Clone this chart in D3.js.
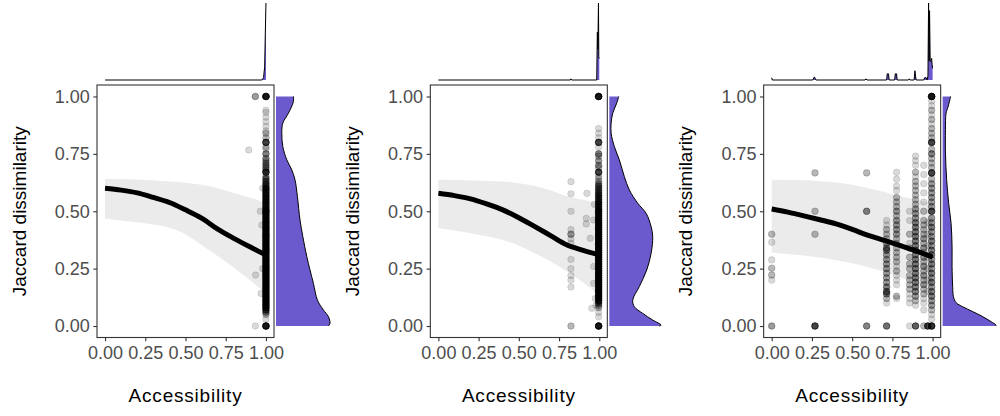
<!DOCTYPE html>
<html><head><meta charset="utf-8">
<script src="https://cdn.jsdelivr.net/npm/d3@7"></script>
<style>body{margin:0;background:#fff}svg{display:block}text{font-family:"Liberation Sans",Arial,sans-serif}</style>
</head><body><svg id="c" width="1000" height="416"></svg>
<script>
// ---------- DATA ----------
const xTicks = [0, 0.25, 0.5, 0.75, 1];
const yTicks = [0, 0.25, 0.5, 0.75, 1];
const xTitle = "Accessibility";
const yTitle = "Jaccard dissimilarity";

// smooth fit (x grid shared by the three panels)
const fitX = [0, 0.1, 0.2, 0.3, 0.4, 0.5, 0.6, 0.7, 0.8, 0.9, 1.0];
const p1Fit = [0.600, 0.592, 0.580, 0.560, 0.538, 0.506, 0.470, 0.422, 0.382, 0.345, 0.310];
const p1Upper = [0.641, 0.640, 0.638, 0.634, 0.630, 0.624, 0.615, 0.600, 0.580, 0.560, 0.535];
const p1Lower = [0.467, 0.460, 0.452, 0.442, 0.428, 0.400, 0.353, 0.305, 0.255, 0.200, 0.140];
const p2Fit = [0.578, 0.568, 0.554, 0.532, 0.506, 0.472, 0.433, 0.393, 0.353, 0.330, 0.310];
const p2Upper = [0.637, 0.636, 0.634, 0.632, 0.630, 0.622, 0.610, 0.590, 0.565, 0.550, 0.535];
const p2Lower = [0.426, 0.416, 0.404, 0.391, 0.375, 0.350, 0.317, 0.280, 0.237, 0.190, 0.135];
const p3Fit = [0.510, 0.496, 0.480, 0.463, 0.445, 0.421, 0.395, 0.373, 0.350, 0.326, 0.300];
const p3Upper = [0.637, 0.636, 0.635, 0.631, 0.625, 0.615, 0.600, 0.584, 0.565, 0.550, 0.535];
const p3Lower = [0.320, 0.314, 0.307, 0.298, 0.287, 0.273, 0.256, 0.236, 0.212, 0.183, 0.150];

// right marginal densities of dissimilarity: [y, density]
const p1RightDens = [[1.0,0.87],[0.978,0.87],[0.927,0.62],[0.884,0.34],[0.84,0.29],[0.782,0.34],[0.724,0.54],[0.68,0.79],[0.637,0.95],[0.564,1.07],[0.462,1.2],[0.39,1.34],[0.302,1.54],[0.244,1.7],[0.186,1.87],[0.113,2.07],[0.07,2.37],[0.041,2.62],[0.012,2.7],[0,2.62]];
const p2RightDens = [[1.0,0.47],[0.971,0.37],[0.927,0.17],[0.884,0.09],[0.84,0.09],[0.782,0.25],[0.724,0.5],[0.651,0.75],[0.593,1.0],[0.535,1.42],[0.491,1.84],[0.433,2.09],[0.39,2.17],[0.317,2.09],[0.244,1.87],[0.172,1.5],[0.113,1.17],[0.084,1.25],[0.055,1.67],[0.026,2.17],[0.004,2.59],[0,2.5]];
const p3RightDens = [[1.0,0.39],[0.978,0.34],[0.949,0.25],[0.927,0.17],[0.855,0.14],[0.753,0.14],[0.637,0.2],[0.535,0.3],[0.448,0.42],[0.346,0.47],[0.259,0.47],[0.172,0.5],[0.128,0.54],[0.102,0.67],[0.084,1.0],[0.063,1.5],[0.041,2.0],[0.019,2.42],[0.004,2.67],[0,2.65]];

// top marginal densities of accessibility: [x, density]
const p1TopDens = [[0,0],[0.975,0],[0.985,0.03],[0.992,0.17],[0.996,0.6],[1.0,1.0]];
const p2TopDens = [[0,0],[0.82,0],[0.824,0.015],[0.828,0],[0.984,0],[0.988,0.62],[0.991,0.4],[0.995,1.0],[0.997,0.3],[1.0,0.28]];
const p3TopDens = [[0,0.03],[0.004,0],[0.255,0],[0.265,0.04],[0.275,0],[0.58,0],[0.586,0.015],[0.592,0],[0.714,0],[0.718,0.08],[0.726,0.08],[0.73,0],[0.764,0],[0.768,0.08],[0.776,0.08],[0.78,0],[0.85,0],[0.855,0.015],[0.86,0],[0.885,0],[0.89,0.12],[0.894,0.05],[0.898,0],[0.945,0],[0.95,0.03],[0.96,0.03],[0.965,0],[0.971,0.05],[0.975,1.0],[0.978,0.25],[0.981,0.9],[0.985,0.24],[0.99,0.25],[0.994,0.28],[0.997,0.2],[1.0,0.15]];

// points: columns of [y, count]
const p1Col100 = [[0,14],[0.03,1],[0.05,2],[0.06,4],[0.07,6],[0.08,8],[0.09,8],[0.10,8],[0.11,8],[0.12,8],[0.13,8],[0.14,8],[0.15,8],[0.16,8],[0.17,8],[0.18,8],[0.19,8],[0.20,8],[0.21,8],[0.22,8],[0.23,8],[0.24,8],[0.25,9],[0.26,8],[0.27,8],[0.28,8],[0.29,8],[0.30,8],[0.31,8],[0.32,8],[0.33,9],[0.34,8],[0.35,8],[0.36,8],[0.37,8],[0.38,8],[0.39,8],[0.40,9],[0.41,7],[0.42,8],[0.43,8],[0.44,7],[0.45,8],[0.46,7],[0.47,7],[0.48,7],[0.49,7],[0.50,10],[0.51,7],[0.52,7],[0.53,6],[0.54,7],[0.55,6],[0.56,6],[0.57,6],[0.58,6],[0.59,6],[0.60,7],[0.61,5],[0.62,5],[0.63,4],[0.64,4],[0.65,3],[0.67,8],[0.68,3],[0.69,3],[0.70,3],[0.71,3],[0.72,2],[0.73,3],[0.75,4],[0.77,1],[0.78,2],[0.80,8],[0.82,2],[0.84,2],[0.85,1],[0.87,1],[0.89,1],[0.91,1],[0.93,1],[0.94,1],[1.00,14]];
const p1Singles = [[0.893,0.767,1],[0.934,1.0,3],[0.934,0,1],[0.936,0.222,1],[0.965,0.50,1],[0.97,0.142,1],[0.975,0.44,1],[0.98,0.25,1],[0.98,0.60,1]];

const p2Col100 = [[0,14],[0.04,1],[0.06,1],[0.08,2],[0.09,3],[0.10,5],[0.11,7],[0.12,8],[0.13,8],[0.14,8],[0.15,8],[0.16,8],[0.17,8],[0.18,8],[0.19,8],[0.20,8],[0.21,8],[0.22,8],[0.23,8],[0.24,8],[0.25,9],[0.26,8],[0.27,8],[0.28,8],[0.29,8],[0.30,8],[0.31,8],[0.32,8],[0.33,9],[0.34,8],[0.35,8],[0.36,8],[0.37,8],[0.38,8],[0.39,8],[0.40,9],[0.41,8],[0.42,8],[0.43,8],[0.44,8],[0.45,8],[0.46,8],[0.47,7],[0.48,7],[0.49,7],[0.50,10],[0.51,6],[0.52,6],[0.53,6],[0.54,6],[0.55,5],[0.56,5],[0.57,5],[0.58,5],[0.59,4],[0.60,4],[0.61,4],[0.62,3],[0.63,2],[0.64,1],[0.65,2],[0.67,8],[0.69,2],[0.70,3],[0.72,3],[0.74,2],[0.75,4],[0.78,1],[0.80,8],[0.82,1],[0.84,1],[0.86,1],[1.0,14]];
const p2Col082 = [[0.629,1],[0.576,1],[0.50,1],[0.42,1],[0.40,3],[0.38,1],[0.36,1],[0.29,1],[0.25,1],[0.22,1],[0.20,1],[0.17,1],[0,2]];
const p2Singles = [[0.923,0.578,1],[0.919,0.469,1],[0.919,0.445,1],[0.944,0.382,1],[0.954,0.077,1],[0.965,0.462,1],[0.965,0.259,1],[0.965,0.186,1],[0.97,0.53,1],[0.975,0.12,1],[0.98,0.09,1]];

const p3Col000 = [[0.40,2],[0.365,1],[0.288,1],[0.252,2],[0.222,2],[0.20,1],[0,3]];
const p3Col027 = [[0.667,2],[0.5,2],[0.4,2],[0,8]];
const p3Col059 = [[0.667,2],[0.5,4],[0,4]];
const p3Col071 = [[0.46,1],[0.44,1],[0.42,2],[0.40,2],[0.38,2],[0.36,3],[0.34,4],[0.33,4],[0.31,3],[0.29,3],[0.27,3],[0.25,3],[0.23,3],[0.21,3],[0.19,3],[0.17,4],[0.15,5],[0.14,4],[0.12,2],[0.10,1],[0,5]];
const p3Col078 = [[0.67,1],[0.64,1],[0.61,1],[0.59,1],[0.56,2],[0.54,2],[0.52,2],[0.50,3],[0.48,2],[0.46,3],[0.44,3],[0.42,3],[0.40,3],[0.38,2],[0.36,2],[0.34,2],[0.32,2],[0.30,2],[0.28,2],[0.26,1],[0.24,2],[0.22,1],[0.20,1],[0.18,1],[0.13,2],[0.12,1]];
const p3Col086 = [[0.50,1],[0.46,1],[0.40,2],[0.36,1],[0.34,2],[0.30,2],[0.27,2],[0.25,2],[0.22,2],[0.20,2],[0.18,2],[0.16,2],[0.14,1],[0.12,1],[0.10,1],[0,1]];
const p3Col089 = [[0.74,1],[0.72,1],[0.70,1],[0.67,2],[0.65,1],[0.63,2],[0.61,2],[0.59,2],[0.57,2],[0.55,2],[0.53,2],[0.51,3],[0.49,3],[0.47,3],[0.45,4],[0.43,4],[0.41,4],[0.39,4],[0.37,4],[0.35,4],[0.33,4],[0.31,4],[0.29,4],[0.27,4],[0.25,4],[0.23,4],[0.21,4],[0.19,4],[0.17,4],[0.15,4],[0.13,3],[0.11,2],[0.09,1],[0,6]];
const p3Col095 = [[0.70,1],[0.66,1],[0.62,1],[0.58,1],[0.54,1],[0.50,2],[0.46,2],[0.44,2],[0.42,2],[0.40,2],[0.38,3],[0.36,2],[0.34,3],[0.32,2],[0.30,3],[0.28,2],[0.26,3],[0.24,2],[0.22,3],[0.20,2],[0.18,3],[0.16,2],[0.14,2],[0.12,1],[0.10,1],[0.07,1],[0,2]];
const p3Col097 = [[0.45,1],[0.40,1],[0.35,1],[0.30,1],[0.25,1],[0.20,1],[0.15,1],[0,8]];
const p3Col099 = [[0,10],[0.03,1],[0.05,1],[0.07,2],[0.09,3],[0.11,3],[0.13,4],[0.15,4],[0.17,3],[0.19,4],[0.21,3],[0.23,4],[0.25,3],[0.27,4],[0.29,3],[0.31,4],[0.33,4],[0.35,3],[0.37,4],[0.39,3],[0.41,3],[0.43,4],[0.45,3],[0.47,3],[0.50,7],[0.52,3],[0.54,3],[0.56,3],[0.58,3],[0.60,3],[0.62,3],[0.64,2],[0.667,8],[0.69,2],[0.71,2],[0.73,2],[0.75,4],[0.77,2],[0.80,8],[0.82,2],[0.84,2],[0.86,2],[0.88,1],[0.90,2],[0.92,1],[0.94,2],[0.96,1],[0.98,1],[1.0,14]];

// ---------- BUILD ----------
function col(xv, arr){ return arr.map(d => [xv, d[0], d[1]]); }
const panels = [
  { fit:p1Fit, up:p1Upper, lo:p1Lower, right:p1RightDens, top:p1TopDens,
    pts:[...col(1.0,p1Col100), ...p1Singles] },
  { fit:p2Fit, up:p2Upper, lo:p2Lower, right:p2RightDens, top:p2TopDens,
    pts:[...col(0.824,p2Col082), ...p2Singles, ...col(0.996,p2Col100)] },
  { fit:p3Fit, up:p3Upper, lo:p3Lower, right:p3RightDens, top:p3TopDens,
    pts:[...col(0,p3Col000), ...col(0.269,p3Col027), ...col(0.59,p3Col059), ...col(0.714,p3Col071),
         ...col(0.776,p3Col078), ...col(0.857,p3Col086), ...col(0.894,p3Col089), ...col(0.945,p3Col095),
         ...col(0.97,p3Col097), ...col(0.994,p3Col099)] }
];

const svg = d3.select('#c');
const FS_TICK = 18, FS_TITLE = 19;

panels.forEach((p, i) => {
  const ox = i * 333.33;
  const g = svg.append('g');
  const x = d3.scaleLinear().domain([-0.05, 1.05]).range([ox + 97, ox + 274]);
  const y = d3.scaleLinear().domain([-0.05, 1.05]).range([337.5, 85]);
  const xr = d3.scaleLinear().domain([0, 2.75]).range([ox + 276, ox + 331]);
  const yt = d3.scaleLinear().domain([0, 1]).range([80, 3]);

  // ribbon
  const rib = fitX.map((xv, k) => ({x: xv, lo: p.lo[k], up: p.up[k], f: p.fit[k]}));
  g.append('path').datum(rib)
    .attr('d', d3.area().x(d => x(d.x)).y0(d => y(d.lo)).y1(d => y(d.up)).curve(d3.curveMonotoneX))
    .attr('fill', '#ebebeb');

  // points
  const expanded = p.pts.flatMap(d => d3.range(d[2]).map(() => [d[0], d[1]]));
  g.append('g').selectAll('circle').data(expanded).join('circle')
    .attr('cx', d => x(d[0])).attr('cy', d => y(d[1])).attr('r', 3.3)
    .attr('fill', '#000').attr('fill-opacity', 0.15)
    .attr('stroke', '#000').attr('stroke-opacity', 0.15).attr('stroke-width', 0.7);

  // fit line
  g.append('path').datum(rib)
    .attr('d', d3.line().x(d => x(d.x)).y(d => y(d.f)).curve(d3.curveMonotoneX))
    .attr('fill', 'none').attr('stroke', '#000').attr('stroke-width', 5);

  // panel border
  g.append('rect').attr('x', x(-0.05)).attr('y', y(1.05))
    .attr('width', x(1.05) - x(-0.05)).attr('height', y(-0.05) - y(1.05))
    .attr('fill', 'none').attr('stroke', '#333').attr('stroke-width', 1.1);

  // axes
  const ax = g.append('g').attr('transform', `translate(0,${y(-0.05)})`)
    .call(d3.axisBottom(x).tickValues(xTicks).tickFormat(d3.format('.2f')).tickSize(3.7).tickPadding(5));
  const ay = g.append('g').attr('transform', `translate(${x(-0.05)},0)`)
    .call(d3.axisLeft(y).tickValues(yTicks).tickFormat(d3.format('.2f')).tickSize(3.7).tickPadding(3.5));
  [ax, ay].forEach(a => {
    a.select('.domain').remove();
    a.selectAll('line').attr('stroke', '#333').attr('stroke-width', 1.1);
    a.selectAll('text').attr('fill', '#4d4d4d').style('font-size', FS_TICK + 'px')
      .style('font-family', '"Liberation Sans", Arial, sans-serif');
  });

  // titles
  g.append('text').attr('x', (x(-0.05) + x(1.05)) / 2).attr('y', 402)
    .attr('text-anchor', 'middle').style('font-size', FS_TITLE + 'px').style('letter-spacing', '0.8px')
    .attr('fill', '#000').text(xTitle);
  g.append('text').attr('transform', `translate(${ox + 25.5},${(y(-0.05) + y(1.05)) / 2}) rotate(-90)`)
    .attr('text-anchor', 'middle').style('font-size', FS_TITLE + 'px')
    .attr('fill', '#000').text(yTitle);

  // right density
  g.append('path').datum(p.right)
    .attr('d', d3.area().y(d => y(d[0])).x0(xr(0)).x1(d => xr(d[1])).curve(d3.curveCatmullRom.alpha(0.5)))
    .attr('fill', '#6a5acd');
  g.append('path').datum(p.right)
    .attr('d', d3.line().y(d => y(d[0])).x(d => xr(d[1])).curve(d3.curveCatmullRom.alpha(0.5)))
    .attr('fill', 'none').attr('stroke', '#000').attr('stroke-width', 1);

  // top density
  g.append('path').datum(p.top)
    .attr('d', d3.area().x(d => x(d[0])).y0(yt(0)).y1(d => yt(d[1])))
    .attr('fill', '#6a5acd');
  g.append('path').datum(p.top)
    .attr('d', d3.line().x(d => x(d[0])).y(d => yt(d[1])))
    .attr('fill', 'none').attr('stroke', '#000').attr('stroke-width', 1);
});
</script>
</body></html>
